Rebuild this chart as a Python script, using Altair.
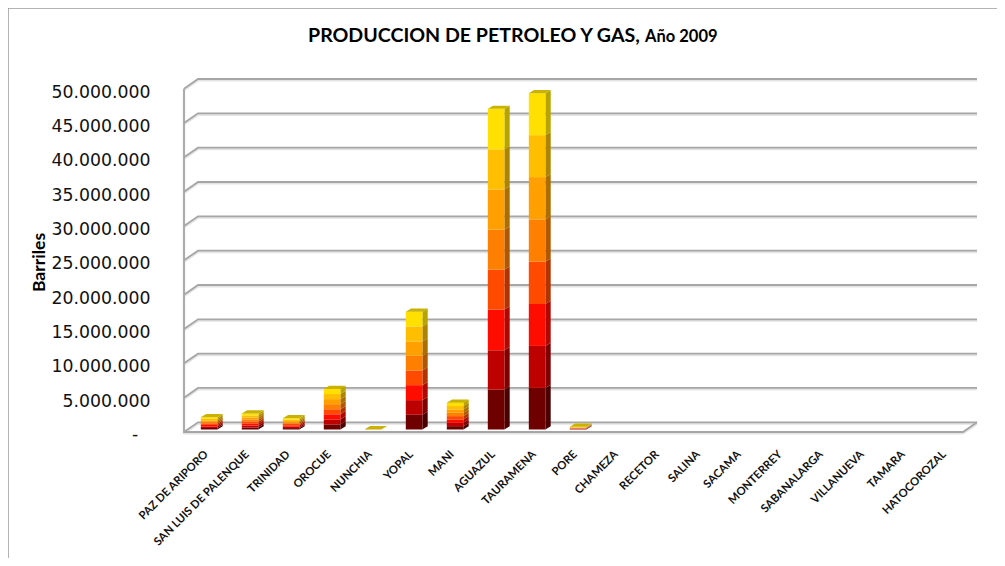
import altair as alt
import pandas as pd

categories = ["PAZ DE ARIPORO", "SAN LUIS DE PALENQUE", "TRINIDAD", "OROCUE", "NUNCHIA", "YOPAL", "MANI",
              "AGUAZUL", "TAURAMENA", "PORE", "CHAMEZA", "RECETOR", "SALINA", "SACAMA", "MONTERREY",
              "SABANALARGA", "VILLANUEVA", "TAMARA", "HATOCOROZAL"]

# Eight stacked series, bottom to top (barrels)
s1 = [220000, 295000, 205000, 740000, 6000, 2140000, 490000, 5820000, 6060000, 50000, 0, 0, 0, 0, 0, 0, 0, 0, 0]
s2 = [225000, 290000, 200000, 735000, 6000, 2140000, 485000, 5720000, 6110000, 50000, 0, 0, 0, 0, 0, 0, 0, 0, 0]
s3 = [220000, 295000, 205000, 740000, 6000, 2180000, 490000, 5920000, 6110000, 50000, 0, 0, 0, 0, 0, 0, 0, 0, 0]
s4 = [225000, 290000, 205000, 735000, 6000, 2140000, 485000, 5820000, 6160000, 50000, 0, 0, 0, 0, 0, 0, 0, 0, 0]
s5 = [220000, 295000, 200000, 740000, 6000, 2140000, 490000, 5820000, 6160000, 50000, 0, 0, 0, 0, 0, 0, 0, 0, 0]
s6 = [225000, 290000, 205000, 735000, 6000, 2090000, 485000, 5870000, 6160000, 50000, 0, 0, 0, 0, 0, 0, 0, 0, 0]
s7 = [220000, 295000, 205000, 740000, 7000, 2180000, 490000, 5820000, 6110000, 50000, 0, 0, 0, 0, 0, 0, 0, 0, 0]
s8 = [225000, 295000, 205000, 735000, 7000, 2140000, 485000, 5910000, 6110000, 50000, 0, 0, 0, 0, 0, 0, 0, 0, 0]
series = [s1, s2, s3, s4, s5, s6, s7, s8]

front_colors = ["#6e0000", "#bd0000", "#ff0c00", "#ff4a00", "#ff7f00", "#ff9f00", "#ffbf00", "#ffe000"]
side_colors = ["#4a0000", "#800000", "#b00800", "#b03300", "#b05800", "#ad6e00", "#ad8400", "#b8a400"]
top_color = "#c9b200"
grid_color = "#a6a6a6"

ticks = list(range(0, 50000001, 5000000))

PX = 343.3 / 50000000          # pixels per barrel
FRONT0, PLOT_L = 432, 184      # front floor line on the page
CAT_W = 41.0
W, H = 989, 550
x_scale = alt.Scale(domain=[(8 - PLOT_L) / CAT_W, (8 + W - PLOT_L) / CAT_W], nice=False, zero=False)
y_scale = alt.Scale(domain=[(FRONT0 - 8 - H) / PX, (FRONT0 - 8) / PX], nice=False, zero=False)

DK, DV = 14 / CAT_W, 9.7 / PX          # floor depth
BK, BV = 5.3 / CAT_W, 3.2 / PX         # bar depth
BASE = 2.5 / PX
HALF, SHIFT = 8.3 / CAT_W, 4.6 / CAT_W

# frame and wall grid
grid = []
lid = 0
for t in ticks:
    lid += 1
    for s, (k, v) in enumerate([(0, t), (DK, t + DV), (19 + DK, t + DV)]):
        grid.append({"k": k, "v": v, "id": lid, "s": s})
lid += 1
for s, (k, v) in enumerate([(19 + DK, DV), (19, 0), (0, 0), (0, ticks[-1])]):
    grid.append({"k": k, "v": v, "id": lid, "s": s})
grid = pd.DataFrame(grid)

fronts, sides, tops = [], [], []
fid = 0
for i, cat in enumerate(categories):
    total = sum(s[i] for s in series)
    if total == 0:
        continue
    c = i + 0.5 + SHIFT
    x0, x1 = c - HALF, c + HALF
    base = BASE
    for j, s in enumerate(series):
        lo, hi = base, base + s[i]
        base = hi
        fid += 1
        fronts.append({"x0": x0, "x1": x1, "lo": lo, "hi": hi, "c": front_colors[j]})
        sides.append({"k": x1, "a": lo, "b": hi, "id": fid, "c": side_colors[j]})
        sides.append({"k": x1 + BK, "a": lo + BV, "b": hi + BV, "id": fid, "c": side_colors[j]})
    fid += 1
    t = base
    for k, a, b in [(x0, t, t), (x0 + BK, t, t + BV), (x1, t, t + BV), (x1 + BK, t + BV, t + BV)]:
        tops.append({"k": k, "a": a, "b": b, "id": fid, "c": top_color})
fronts, sides, tops = pd.DataFrame(fronts), pd.DataFrame(sides), pd.DataFrame(tops)

labels = pd.DataFrame({"name": categories,
                       "k": [i + 0.55 for i in range(len(categories))],
                       "v": [-3050000] * len(categories)})

yaxis = alt.Axis(values=ticks, offset=-176, domain=False, ticks=False, grid=False,
                 labelPadding=34, labelFontSize=17.3, labelFont="DejaVu Sans", labelColor="#111111", labelOffset=3.5,
                 labelExpr="datum.value == 0 ? '' : replace(format(datum.value, ',d'), /,/g, '.')",
                 title="Barriles", titleFont="Lato", titleFontSize=17.5, titleFontWeight="bold", titleColor="#000000",
                 titleX=-136, titleY=262 - 8)

border = pd.DataFrame({"k": [x_scale.domain[0]] * 2 + [x_scale.domain[1]],
                       "v": [y_scale.domain[0], y_scale.domain[1], y_scale.domain[1]], "s": [0, 1, 2]})

X = lambda f: alt.X(f, scale=x_scale, axis=None)

grid_shadow = alt.Chart(grid).mark_line(stroke="#e4e4e4", strokeWidth=2.5).encode(
    x=X("k:Q"), y=alt.Y("v2:Q", scale=y_scale, axis=None), detail="id:N", order="s:Q"
).transform_calculate(v2=f"datum.v - {1.3 / PX}")
grid_line = alt.Chart(grid).mark_line(stroke=grid_color, strokeWidth=1.8).encode(
    x=X("k:Q"), y=alt.Y("v:Q", scale=y_scale, axis=yaxis), detail="id:N", order="s:Q")
frame = alt.Chart(border).mark_line(stroke="#9a9a9a", strokeWidth=1.5).encode(
    x=X("k:Q"), y=alt.Y("v:Q", scale=y_scale, axis=None), order="s:Q")

def faces(df):
    return alt.Chart(df).mark_area(orient="vertical", interpolate="linear").encode(
        x=X("k:Q"), y=alt.Y("a:Q", scale=y_scale, axis=None), y2="b:Q",
        color=alt.Color("c:N", scale=None), detail="id:N")

front = alt.Chart(fronts).mark_rect().encode(
    x=X("x0:Q"), x2="x1:Q", y=alt.Y("lo:Q", scale=y_scale, axis=None), y2="hi:Q",
    color=alt.Color("c:N", scale=None))
cat_text = alt.Chart(labels).mark_text(angle=315, align="right", baseline="middle", font="Lato",
                                       fontSize=11.3, fontWeight="bold", color="#111111").encode(
    x=X("k:Q"), y=alt.Y("v:Q", scale=y_scale, axis=None), text="name:N")

zero_label = alt.Chart(pd.DataFrame({"t": ["-"], "k": [-49 / CAT_W], "v": [-2.5 / PX]})).mark_text(
    align="center", baseline="middle", font="DejaVu Sans", fontSize=17.3, color="#111111").encode(
    x=X("k:Q"), y=alt.Y("v:Q", scale=y_scale, axis=None), text="t:N")

title_a = alt.Chart(pd.DataFrame({"t": ["PRODUCCION DE PETROLEO Y GAS,"]})).mark_text(
    align="left", baseline="middle", font="Lato", fontSize=19.6, fontWeight="bold", color="#000000").encode(
    x=alt.value(308 - 8), y=alt.value(36 - 8), text="t:N")
title_b = alt.Chart(pd.DataFrame({"t": ["Año 2009"]})).mark_text(
    align="left", baseline="middle", font="Lato", fontSize=16.5, fontWeight="bold", color="#000000").encode(
    x=alt.value(645 - 8), y=alt.value(37 - 8), text="t:N")

chart = alt.layer(frame, grid_shadow, grid_line, faces(sides), front, faces(tops), cat_text, zero_label, title_a, title_b).properties(
    width=W, height=H, padding=0, autosize=alt.AutoSizeParams(type="none"),
    background="#ffffff"
).resolve_axis(y="independent").configure_view(stroke=None)

chart.save("out.html", embed_options={"renderer": "svg", "actions": False})
